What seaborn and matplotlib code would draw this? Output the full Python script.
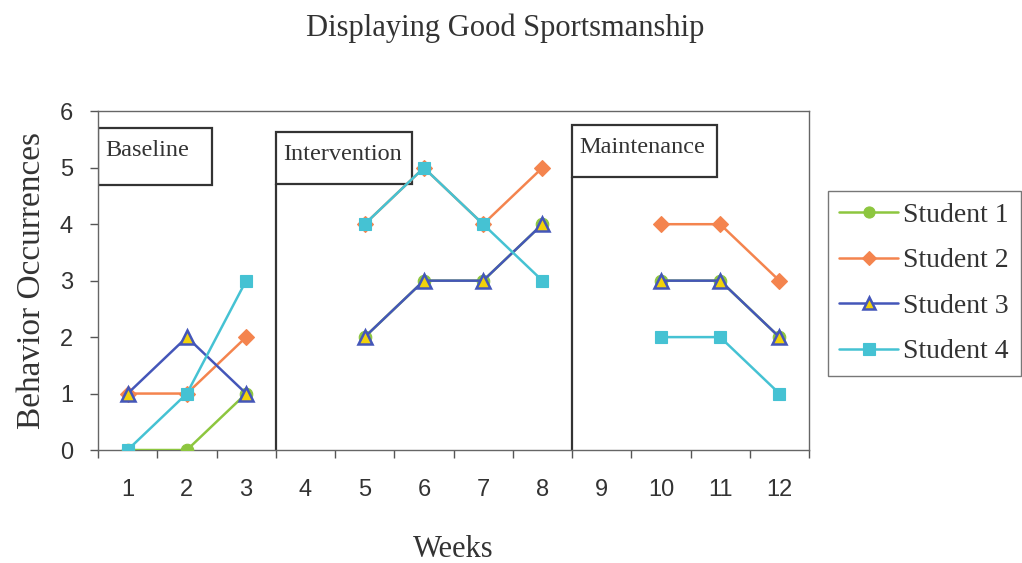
import pandas as pd
import matplotlib.pyplot as plt
import seaborn as sns
from matplotlib.patches import Rectangle
from matplotlib.lines import Line2D

# data (weeks 4 and 9 have no sessions)
weeks = [1, 2, 3, 5, 6, 7, 8, 10, 11, 12]
phase = ['Baseline'] * 3 + ['Intervention'] * 4 + ['Maintenance'] * 3
student1 = [0, 0, 1, 2, 3, 3, 4, 3, 3, 2]
student2 = [1, 1, 2, 4, 5, 4, 5, 4, 4, 3]
student3 = [1, 2, 1, 2, 3, 3, 4, 3, 3, 2]
student4 = [0, 1, 3, 4, 5, 4, 3, 2, 2, 1]
week_labels = [str(w) for w in range(1, 13)]

students = ['Student 1', 'Student 2', 'Student 3', 'Student 4']
values = [student1, student2, student3, student4]
colors = ['#8DC63F', '#F4844E', '#4456B9', '#45C2D3']
faces = ['#8DC63F', '#F4844E', '#F2D20A', '#45C2D3']
markers = ['o', 'D', '^', 's']
msizes = [9, 8, 10, 9]

rows = []
for name, vals in zip(students, values):
    for w, p, v in zip(weeks, phase, vals):
        rows.append({'Student': name, 'Week': w, 'Phase': p, 'Count': v})
df = pd.DataFrame(rows)

sns.set_style('white')
plt.rcParams['font.family'] = ['Liberation Serif', 'DejaVu Serif']

fig = plt.figure(figsize=(10.22, 5.63), dpi=100)
ax = fig.add_axes([0.0959, 0.2007, 0.6957, 0.7993 - 0.2007 + 0.003])

# phase boxes and phase change lines
boxes = [('Baseline', 0.5, 2.42, 4.70, 5.71),
         ('Intervention', 3.5, 5.80, 4.72, 5.64),
         ('Maintenance', 8.5, 10.94, 4.84, 5.75)]
for label, x0, x1, y0, y1 in boxes:
    ax.add_patch(Rectangle((x0, y0), x1 - x0, y1 - y0, facecolor='white',
                           edgecolor='#333333', linewidth=1.6, zorder=2))
    ax.text(x0 + 0.12, y1 - 0.40, label, fontsize=17.5, va='center', ha='left',
            color='#333333', zorder=3)
    if x0 > 1:
        ax.plot([x0, x0], [0, y0], color='#333333', linewidth=1.6, zorder=2)

for name, col, fc, mk, ms in zip(students, colors, faces, markers, msizes):
    sub = df[df['Student'] == name]
    for ph in ['Baseline', 'Intervention', 'Maintenance']:
        seg = sub[sub['Phase'] == ph]
        sns.lineplot(data=seg, x='Week', y='Count', ax=ax, color=col,
                     marker=mk, markersize=ms, markerfacecolor=fc,
                     markeredgecolor=col, markeredgewidth=1.8 if mk == '^' else 0.8,
                     linewidth=1.8, estimator=None, zorder=4)

ax.set_xlim(0.5, 12.5)
ax.set_ylim(0, 6)
ax.set_xticks(range(1, 13))
ax.set_xticklabels(week_labels, fontsize=17, family='Liberation Sans', color='#333333')
ax.set_xticks([x + 0.5 for x in range(0, 13)], minor=True)
ax.tick_params(axis='x', which='major', length=0, pad=21)
ax.tick_params(axis='x', which='minor', length=6, width=1, color='#555555', direction='out', bottom=True)
ax.set_yticks(range(0, 7))
ax.set_yticklabels([str(i) for i in range(7)], fontsize=17, family='Liberation Sans', color='#333333')
ax.tick_params(axis='y', length=6, width=1, color='#555555', direction='out', left=True, pad=12)
for s in ax.spines.values():
    s.set_color('#666666')
    s.set_linewidth(1.0)

ax.set_xlabel('Weeks', fontsize=22, color='#333333', labelpad=24)
ax.set_ylabel('Behavior Occurrences', fontsize=24, color='#333333')
ax.yaxis.set_label_coords(-0.072, 0.50)
fig.text(0.494, 0.95, 'Displaying Good Sportsmanship', fontsize=22,
         ha='center', va='center', color='#333333')

handles = [Line2D([], [], color=c, marker=m, markersize=s - 1, markerfacecolor=f,
                  markeredgecolor=c, linewidth=1.8, markeredgewidth=1.8 if m == '^' else 0.8)
           for c, f, m, s in zip(colors, faces, markers, msizes)]
leg = fig.legend(handles, students, loc='upper left', bbox_to_anchor=(0.810, 0.661),
                 fontsize=20, frameon=True, fancybox=False, handlelength=2.1,
                 handletextpad=0.2, labelspacing=0.72, borderpad=0.42,
                 borderaxespad=0.0, edgecolor='#555555', labelcolor='#333333')
leg.get_frame().set_linewidth(1.0)

fig.savefig('out.png', dpi=100, facecolor='white')
